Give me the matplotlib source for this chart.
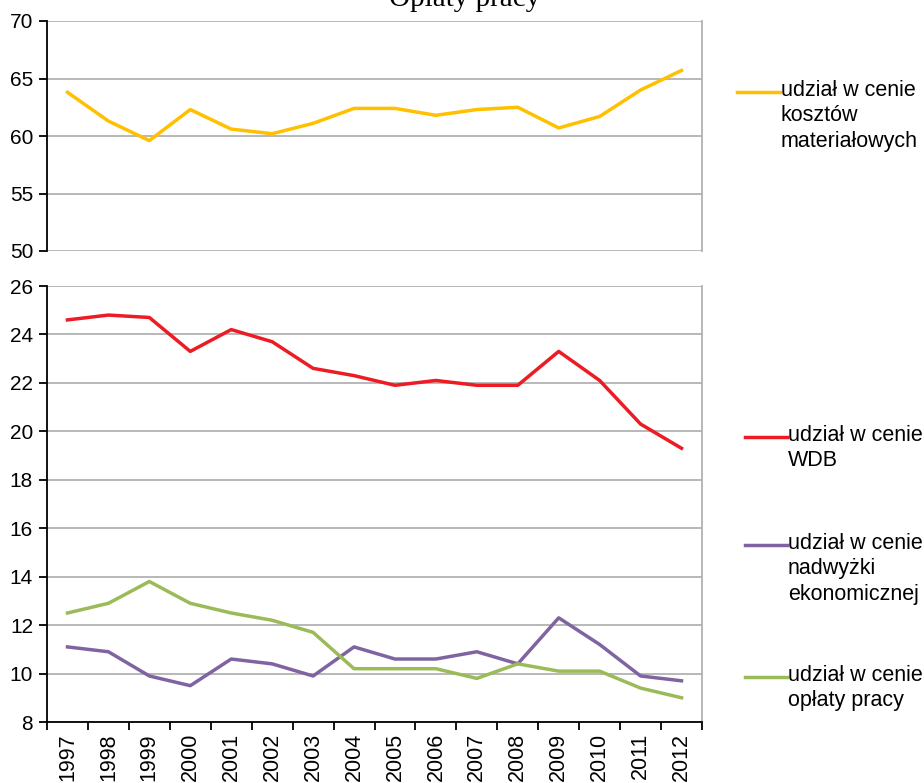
import matplotlib.pyplot as plt
from matplotlib.lines import Line2D

plt.rcParams['font.family'] = ['Liberation Sans', 'DejaVu Sans']

years = [str(y) for y in range(1997, 2013)]

materialy = [63.8, 61.3, 59.6, 62.3, 60.6, 60.2, 61.1, 62.4, 62.4, 61.8, 62.3, 62.5, 60.7, 61.7, 64.0, 65.7]
wdb = [24.6, 24.8, 24.7, 23.3, 24.2, 23.7, 22.6, 22.3, 21.9, 22.1, 21.9, 21.9, 23.3, 22.1, 20.3, 19.3]
nadwyzka = [11.1, 10.9, 9.9, 9.5, 10.6, 10.4, 9.9, 11.1, 10.6, 10.6, 10.9, 10.4, 12.3, 11.2, 9.9, 9.7]
oplaty = [12.5, 12.9, 13.8, 12.9, 12.5, 12.2, 11.7, 10.2, 10.2, 10.2, 9.8, 10.4, 10.1, 10.1, 9.4, 9.0]

labels = ["udział w cenie\nkosztów\nmateriałowych", "udział w cenie\nWDB",
          "udział w cenie\nnadwyżki\nekonomicznej", "udział w cenie\nopłaty pracy"]
colors = ["#FFC000", "#ED1C24", "#8064A2", "#9BBB59"]

W, H = 924, 783
fig = plt.figure(figsize=(W / 100, H / 100), dpi=100)
ax_top = fig.add_axes([47 / W, 1 - 251 / H, 655 / W, 230 / H])
ax_bot = fig.add_axes([47 / W, 1 - 722 / H, 655 / W, 436 / H])

x = range(len(years))
ax_top.plot(x, materialy, color=colors[0], lw=2.5)
ax_bot.plot(x, wdb, color=colors[1], lw=2.5)
ax_bot.plot(x, nadwyzka, color=colors[2], lw=2.5)
ax_bot.plot(x, oplaty, color=colors[3], lw=2.5)

grid_c = "#B2B2B2"
for ax, lo, hi, step in [(ax_top, 50, 70, 5), (ax_bot, 8, 26, 2)]:
    ax.set_xlim(-0.5, len(years) - 0.5)
    ax.set_ylim(lo, hi)
    ax.set_yticks(range(lo, hi + 1, step))
    for v in range(lo, hi + 1, step):
        ax.axhline(v, color=grid_c, lw=1.3, zorder=0)
    ax.spines['top'].set_visible(False)
    ax.spines['right'].set_color(grid_c)
    ax.spines['right'].set_linewidth(1.3)
    ax.spines['left'].set_linewidth(1.3)
    ax.tick_params(axis='y', direction='out', length=6, width=1.3, labelsize=15, pad=4)

ax_top.spines['bottom'].set_visible(False)
ax_top.set_xticks([])

ax_bot.spines['bottom'].set_linewidth(1.3)
ax_bot.set_xticks([i - 0.5 for i in range(len(years) + 1)])
ax_bot.set_xticklabels([])
ax_bot.tick_params(axis='x', which='major', direction='out', length=6, width=1.3)
ax_bot.set_xticks(list(x), minor=True)
ax_bot.set_xticklabels(years, minor=True, rotation=90, fontsize=15.5)
ax_bot.tick_params(axis='x', which='minor', length=0, pad=8)

fig.text(465 / W, 1 + 1 / H, "Opłaty pracy", family='Liberation Serif', fontsize=21,
         ha='center', va='center')

# legend entries at the right
legend_y = [92, 437, 545, 677]
line_x = [(737, 780), (745, 787), (745, 787), (745, 787)]
for lab, c, yy, (x0, x1) in zip(labels, colors, legend_y, line_x):
    fig.add_artist(Line2D([x0 / W, x1 / W], [1 - yy / H, 1 - yy / H], color=c, lw=2.5))
    fig.text((x1 + 1) / W, 1 - (yy - 12) / H, lab, fontsize=15.5, ha='left', va='top',
             linespacing=1.28)

fig.savefig("out.png", dpi=100)
